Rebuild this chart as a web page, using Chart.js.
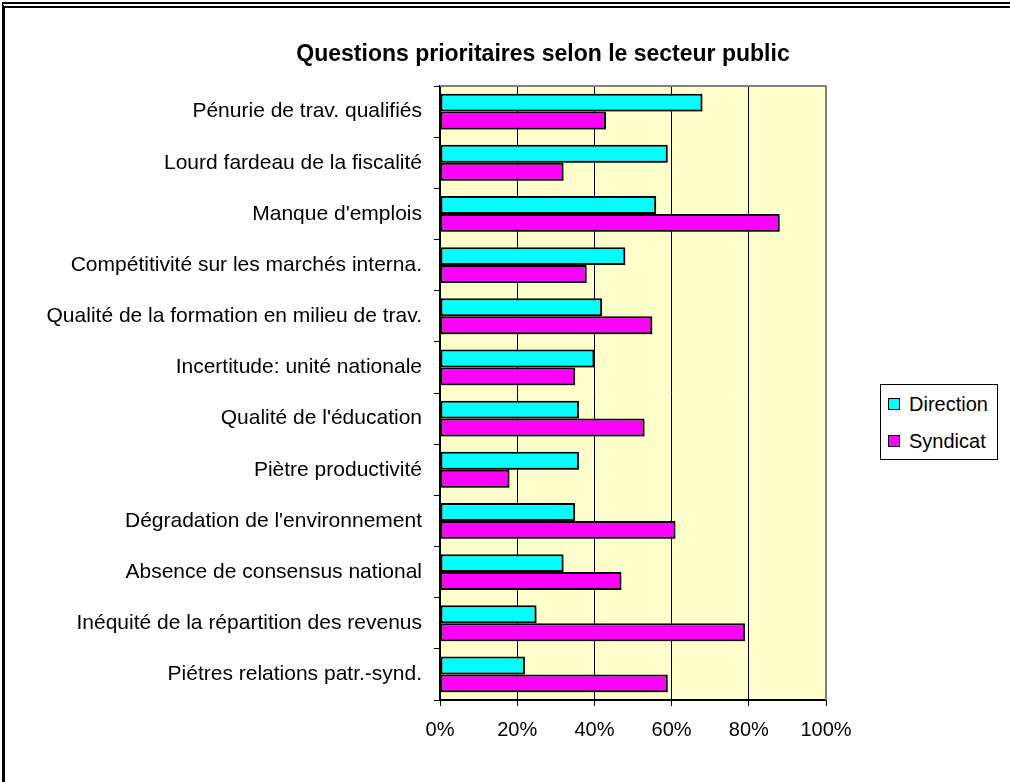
<!DOCTYPE html>
<html>
<head>
<meta charset="utf-8">
<script src="https://cdn.jsdelivr.net/npm/chart.js@4/dist/chart.umd.min.js"></script>
<style>
  html, body { margin: 0; padding: 0; background: #fff; overflow: hidden; }
  .frame {
    position: absolute; left: 2px; top: 2px; width: 1100px; height: 1000px;
    border-top: 6px double #000; border-left: 3px solid #000;
  }
  #chart { position: absolute; left: 0; top: 0; }
  .legend {
    position: absolute; left: 880px; top: 384px; width: 116px; height: 74px;
    border: 1px solid #000; background: #fff;
    font-family: "Liberation Sans", Arial, sans-serif; font-size: 20px; color: #000;
  }
  .legend .item { position: absolute; left: 7px; height: 24px; line-height: 24px; }
  .legend .sw {
    display: inline-block; width: 10px; height: 10px; border: 1px solid #000;
    vertical-align: middle; margin-right: 9px; position: relative; top: -2px;
  }
</style>
</head>
<body>
<div class="frame"></div>
<canvas id="chart" width="1010" height="782"></canvas>
<div class="legend" id="legend"></div>
<script>
const categories = [
  'Pénurie de trav. qualifiés',
  'Lourd fardeau de la fiscalité',
  "Manque d'emplois",
  'Compétitivité sur les marchés interna.',
  'Qualité de la formation en milieu de trav.',
  'Incertitude: unité nationale',
  "Qualité de l'éducation",
  'Piètre productivité',
  "Dégradation de l'environnement",
  'Absence de consensus national',
  'Inéquité de la répartition des revenus',
  'Piétres relations patr.-synd.'
];
const direction = [68, 59, 56, 48, 42, 40, 36, 36, 35, 32, 25, 22];
const syndicat = [43, 32, 88, 38, 55, 35, 53, 18, 61, 47, 79, 59];
const tickLabels = ['0%', '20%', '40%', '60%', '80%', '100%'];
const chartTitle = 'Questions prioritaires selon le secteur public';

const FONT = '"Liberation Sans", Arial, sans-serif';

const plotBox = {
  id: 'plotBox',
  beforeDraw(chart) {
    const a = chart.chartArea, ctx = chart.ctx;
    ctx.save();
    ctx.fillStyle = '#FFFFCC';
    ctx.fillRect(a.left, a.top, a.right - a.left, a.bottom - a.top);
    // title, centred over the whole chart block (plot + legend)
    ctx.fillStyle = '#000';
    ctx.font = 'bold 23px ' + FONT;
    ctx.textAlign = 'center';
    ctx.textBaseline = 'alphabetic';
    ctx.fillText(chartTitle, 543, 61);
    ctx.restore();
  },
  beforeDatasetsDraw(chart) {
    const ctx = chart.ctx;
    ctx.save();
    ctx.shadowColor = 'rgba(0,0,0,0.35)';
    ctx.shadowOffsetX = 2;
    ctx.shadowOffsetY = 2;
    ctx.shadowBlur = 1;
  },
  afterDatasetsDraw(chart) {
    chart.ctx.restore();
  },
  afterDraw(chart) {
    const a = chart.chartArea, ctx = chart.ctx;
    ctx.save();
    ctx.strokeStyle = '#808080';
    ctx.lineWidth = 2;
    ctx.beginPath();
    ctx.moveTo(a.left, a.top);
    ctx.lineTo(a.right, a.top);
    ctx.lineTo(a.right, a.bottom);
    ctx.stroke();
    ctx.restore();
  }
};

const chart = new Chart(document.getElementById('chart'), {
  type: 'bar',
  data: {
    labels: categories,
    datasets: [
      { label: 'Direction', data: direction, backgroundColor: '#00FFFF' },
      { label: 'Syndicat', data: syndicat, backgroundColor: '#FF00FF' }
    ]
  },
  options: {
    indexAxis: 'y',
    responsive: false,
    animation: false,
    devicePixelRatio: 1,
    layout: { padding: { top: 86, right: 184, bottom: 0, left: 0 } },
    datasets: {
      bar: {
        borderColor: '#000',
        borderWidth: 2,
        borderSkipped: false,
        categoryPercentage: 0.7,
        barPercentage: 1.0
      }
    },
    plugins: {
      legend: { display: false },
      tooltip: { enabled: false },
      title: { display: false }
    },
    scales: {
      x: {
        min: 0,
        max: 100,
        ticks: {
          stepSize: 20,
          color: '#000',
          padding: 12,
          font: { family: FONT, size: 20 },
          maxRotation: 0,
          callback: (v, i) => tickLabels[i]
        },
        grid: {
          color: ctx => (ctx.tick && ctx.tick.value === 100 ? '#808080' : '#000'),
          tickColor: '#000',
          tickLength: 6,
          lineWidth: 1
        },
        border: { color: '#000', width: 2 },
        afterFit: s => { s.height = 82; }
      },
      y: {
        ticks: {
          color: '#000',
          padding: 12,
          font: { family: FONT, size: 21 },
          autoSkip: false
        },
        grid: {
          drawOnChartArea: false,
          offset: true,
          color: '#000',
          tickLength: 6
        },
        border: { color: '#000', width: 2 },
        afterFit: s => { s.width = 440; }
      }
    }
  },
  plugins: [plotBox]
});

// legend box built from the datasets
const legend = document.getElementById('legend');
chart.data.datasets.forEach((ds, i) => {
  const item = document.createElement('div');
  item.className = 'item';
  item.style.top = (7 + i * 37) + 'px';
  const sw = document.createElement('span');
  sw.className = 'sw';
  sw.style.background = ds.backgroundColor;
  item.appendChild(sw);
  item.appendChild(document.createTextNode(ds.label));
  legend.appendChild(item);
});
</script>
</body>
</html>
